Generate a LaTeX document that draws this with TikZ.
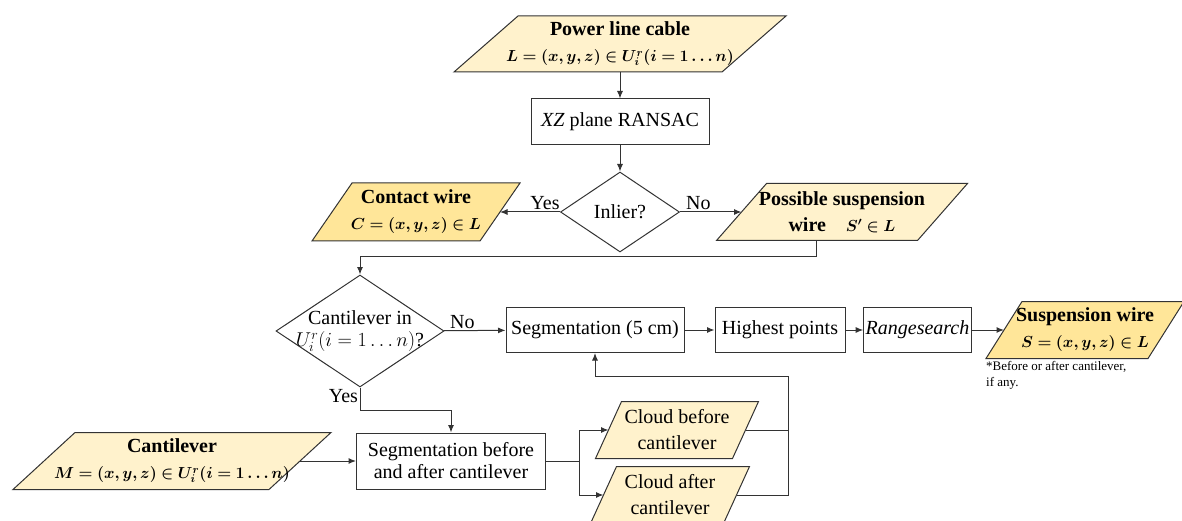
\RequirePackage{fix-cm}
\documentclass[tikz,border=0pt]{standalone}
\usepackage{fontspec}
\setmainfont{Liberation Serif}
\usepackage{bm}
\usetikzlibrary{calc, shapes.geometric, arrows.meta}

\definecolor{pale}{HTML}{FFF2CC}
\definecolor{gold}{HTML}{FFE699}
\pgfdeclarelayer{bg}
\pgfsetlayers{bg,main}

% bold formula line inside the data boxes
\newcommand{\eqline}[1]{{\fontsize{16}{25}\selectfont$\bm{#1}$}}

\tikzset{
  proc/.style={rectangle, draw=black!80, line width=1pt, inner sep=2pt, align=center},
  iobox/.style={rectangle, inner sep=1pt, outer sep=0pt, align=center, font=\fontsize{20}{26}\selectfont},
  decide/.style={diamond, aspect=1.5, draw=black!80, line width=1pt, inner sep=-10pt, align=center},
  link/.style={draw=black!80, line width=1pt},
  arr/.style={link, -{Latex[length=7.5pt,width=6pt]}},
  lbl/.style={inner sep=1.5pt},
}

\begin{document}
\begin{tikzpicture}[x=1pt, y=-1pt, font=\fontsize{20}{22}\selectfont]

  \useasboundingbox (0,0) rectangle (1182,521);

  % top of the chart
  \node[iobox, minimum width=268, minimum height=56] (pwr) at (620,44) {\textbf{Power line cable}\\ \eqline{L=(x,y,z)\in U_i^r(i=1\ldots n)}};
  \node[proc, minimum width=178, minimum height=46] (ransac) at (620,122) {\textit{XZ} plane RANSAC};
  \node[decide, minimum width=119, minimum height=80] (inl) at (620,212) {Inlier?};
  \node[iobox, minimum width=168, minimum height=58] (con) at (416,212) {\textbf{Contact wire}\\ \eqline{C=(x,y,z)\in L}};
  \node[iobox, minimum width=201, minimum height=57] (pos) at (842,212) {\textbf{Possible suspension}\\ \textbf{wire}\quad\eqline{S'\in L}};

  % middle row
  \node[decide, minimum width=168, minimum height=112] (cant) at (360,331) {Cantilever in\\ $U_i^r(i=1\ldots n)$?};
  \node[proc, minimum width=178, minimum height=45] (seg5) at (595,330) {Segmentation (5 cm)};
  \node[proc, minimum width=130, minimum height=45] (high) at (780,330) {Highest points};
  \node[proc, minimum width=101, minimum height=45] (rng) at (917.5,330) {\textit{Rangesearch}};
  \node[iobox, minimum width=162, minimum height=57] (susp) at (1085,330) {\textbf{Suspension wire}\\ \eqline{S=(x,y,z)\in L}};
  \node[font=\fontsize{13}{16}\selectfont, align=left, anchor=north west, inner sep=0pt] (note) at (986,361) {*Before or after cantilever,\\ if any.};

  % bottom row
  \node[iobox, minimum width=256, minimum height=57] (lev) at (172,461) {\textbf{Cantilever}\\ \eqline{M=(x,y,z)\in U_i^r(i=1\ldots n)}};
  \node[proc, minimum width=189, minimum height=56] (segba) at (451,461) {Segmentation before\\ and after cantilever};
  \node[iobox, minimum width=137, minimum height=57] (cb) at (677,430) {Cloud before\\ cantilever};
  \node[iobox, minimum width=133, minimum height=57] (ca) at (670,495) {Cloud after\\ cantilever};

  % slanted data boxes
  \begin{pgfonlayer}{bg}
    \foreach \n/\s/\f in {pwr/32/pale, con/20/gold, pos/25/pale, susp/18/gold,
                          lev/31/pale, cb/13/pale, ca/13/pale}
      \draw[link, fill=\f] ($(\n.south west)+(-\s,0)$) -- ($(\n.south east)+(-\s,0)$)
        -- ($(\n.north east)+(\s,0)$) -- ($(\n.north west)+(\s,0)$) -- cycle;
  \end{pgfonlayer}

  % main flow
  \draw[arr] (pwr) -- (ransac);
  \draw[arr] (ransac) -- (inl);
  \draw[arr] (inl) -- node[lbl, above, pos=0.25] {Yes} (con);
  \draw[arr] (inl) -- node[lbl, above, pos=0.3] {No} (pos);
  \draw[arr] ([xshift=-26pt]pos.south) -- ++(0,16) -| (cant.north);

  % no cantilever
  \draw[arr] (cant) -- node[lbl, above, pos=0.3] {No} (seg5);
  \draw[arr] (seg5) -- (high);
  \draw[arr] (high) -- (rng);
  \draw[arr] (rng) -- (susp);

  % cantilever found
  \draw[arr] (cant.south) -- node[lbl, left, pos=0.35] {Yes} ++(0,23) -| (segba.north);
  \draw[arr] (lev) -- (segba);
  \coordinate (fork) at (579,461);
  \draw[link] (segba) -- (fork);
  \draw[arr] (fork) |- (cb);
  \draw[arr] (fork) |- (ca);

  % back to segmentation
  \coordinate (ret) at (788,376);
  \draw[link] (cb) -- (cb -| ret);
  \draw[arr] (ca) -| (ret) -| (seg5);

\end{tikzpicture}
\end{document}
